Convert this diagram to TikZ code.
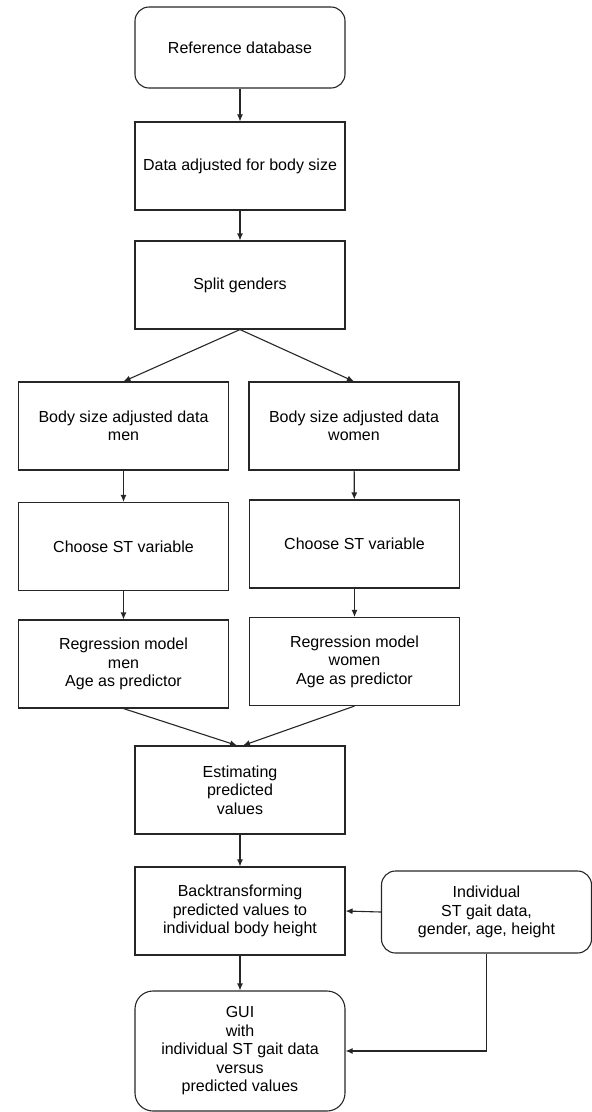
\documentclass[tikz,border=0pt]{standalone}
\usepackage{fontspec}
\setmainfont{Liberation Sans}
\usetikzlibrary{arrows.meta}

\begin{document}
\begin{tikzpicture}[x=1pt, y=1pt, line width=1.1pt,
    box/.style={draw=black!85, minimum width=210pt, minimum height=88pt, align=center,
                inner sep=0pt, font=\fontsize{16}{18.5}\selectfont},
    roundbox/.style={box, rounded corners=14pt},
    arr/.style={draw=black!85, -{Latex[length=7pt, width=6pt]}}]
    \useasboundingbox (0, 0) rectangle (592, -1112);

    % main column
    \node[roundbox, minimum height=81pt] (refdb) at (240, -47.5) {Reference database};
    \node[box] (adjusted) at (240, -166) {Data adjusted for body size};
    \node[box] (split) at (240, -285) {Split genders};

    % men and women
    \node[box] (datamen) at (123.5, -426) {Body size adjusted data\\men};
    \node[box] (datawomen) at (354, -426) {Body size adjusted data\\women};
    \node[box] (stmen) at (123.5, -546.5) {Choose ST variable};
    \node[box] (stwomen) at (354.5, -544) {Choose ST variable};
    \node[box] (regmen) at (123.5, -664) {Regression model\\men\\Age as predictor};
    \node[box] (regwomen) at (354.5, -661.5) {Regression model\\women\\Age as predictor};

    % prediction and output
    \node[box] (estim) at (240, -790) {Estimating\\predicted\\values};
    \node[box] (backtr) at (240, -911) {Backtransforming\\predicted values to\\individual body height};
    \node[roundbox, minimum height=82pt] (indiv) at (486.5, -912) {Individual\\ST gait data,\\gender, age, height};
    \node[roundbox, minimum height=120pt, rounded corners=18pt] (gui) at (240, -1051)
      {GUI\\with\\individual ST gait data\\versus\\predicted values};

    % connectors
    \draw[arr] (refdb) -- (adjusted);
    \draw[arr] (adjusted) -- (split);
    \draw[arr] (split.south) -- (datamen.north);
    \draw[arr] (split.south) -- (datawomen.north);
    \draw[arr] (datamen) -- (stmen);
    \draw[arr] (datawomen) -- (stwomen);
    \draw[arr] (stmen) -- (regmen);
    \draw[arr] (stwomen) -- (regwomen);
    \draw[arr] (regmen.south) -- ([xshift=-3pt]estim.north);
    \draw[arr] (regwomen.south) -- ([xshift=3pt]estim.north);
    \draw[arr] (estim) -- (backtr);
    \draw[arr] (backtr) -- (gui);
    \draw[arr] (indiv.west) -- (backtr.east);
    \draw[arr] (indiv.south) |- (gui.east);
\end{tikzpicture}
\end{document}
